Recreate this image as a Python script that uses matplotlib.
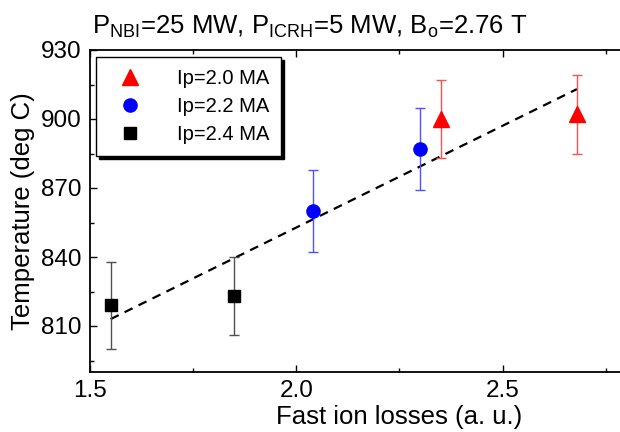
import matplotlib
matplotlib.use("Agg")
import matplotlib.pyplot as plt
from matplotlib.lines import Line2D

# data
x_20 = [2.35, 2.68]
y_20 = [900, 902]
err_20 = [17, 17]

x_22 = [2.04, 2.30]
y_22 = [860, 887]
err_22 = [18, 18]

x_24 = [1.55, 1.85]
y_24 = [819, 823]
err_24 = [19, 17]

fit_x = [1.55, 2.68]
fit_y = [813, 913]

labels = ["Ip=2.0 MA", "Ip=2.2 MA", "Ip=2.4 MA"]

plt.rcParams['font.family'] = ['Liberation Sans', 'DejaVu Sans']
plt.rcParams['mathtext.fontset'] = 'custom'
plt.rcParams['mathtext.rm'] = 'Liberation Sans'

fig = plt.figure(figsize=(6.2, 4.32), dpi=100)
# axes runs past the right edge of the figure, like the cropped original
ax = fig.add_axes([90 / 620, 60 / 432, 619 / 620, 322 / 432])

ax.plot(fit_x, fit_y, color='black', linestyle=(0, (4, 3)), linewidth=1.6, zorder=2)

ax.errorbar(x_20, y_20, yerr=err_20, fmt='^', color='red', markersize=11,
            ecolor='#ff5050', elinewidth=1, capsize=3.5, capthick=1, zorder=3)
ax.errorbar(x_22, y_22, yerr=err_22, fmt='o', color='blue', markersize=9.5,
            ecolor='#5050ff', elinewidth=1, capsize=3.5, capthick=1, zorder=3)
ax.errorbar(x_24, y_24, yerr=err_24, fmt='s', color='black', markersize=8.5,
            ecolor='#505050', elinewidth=1, capsize=3.5, capthick=1, zorder=3)

ax.set_xlim(1.5, 3.0)
ax.set_ylim(790, 930)
ax.set_xticks([1.5, 2.0, 2.5, 3.0])
ax.set_xticklabels(["1.5", "2.0", "2.5", ""])
ax.set_xticks([1.75, 2.25, 2.75], minor=True)
ax.set_yticks([810, 840, 870, 900, 930])
ax.set_yticks([795, 825, 855, 885, 915], minor=True)
ax.tick_params(which='both', direction='in', top=True, right=True, labelsize=17.5, width=1)
ax.tick_params(which='major', length=5, pad=6)
ax.tick_params(which='minor', length=3)
for s in ax.spines.values():
    s.set_linewidth(1.3)

ax.set_xlabel("Fast ion losses (a. u.)", fontsize=18.5, labelpad=2)
ax.set_ylabel("Temperature (deg C)", fontsize=18.5, labelpad=4)

fig.text(92 / 620, 1 - 33 / 432,
         r"P$_{\mathregular{NBI}}$=25 MW, P$_{\mathregular{ICRH}}$=5 MW, B$_{\mathregular{o}}$=2.76 T",
         fontsize=18.5, va='baseline', ha='left')

handles = [
    Line2D([], [], marker='^', color='red', linestyle='none', markersize=11),
    Line2D([], [], marker='o', color='blue', linestyle='none', markersize=9.5),
    Line2D([], [], marker='s', color='black', linestyle='none', markersize=8.5),
]
leg = ax.legend(handles, labels, loc='upper left',
                bbox_to_anchor=(96 / 620, 1 - 57 / 432), bbox_transform=fig.transFigure,
                borderaxespad=0, fontsize=14.5, frameon=True, fancybox=False,
                shadow={'color': 'black', 'alpha': 1.0}, handletextpad=1.2,
                labelspacing=0.45, borderpad=0.6, handlelength=2.2)
leg.get_frame().set_edgecolor('black')
leg.get_frame().set_linewidth(1)

fig.savefig("out.png", dpi=100)
